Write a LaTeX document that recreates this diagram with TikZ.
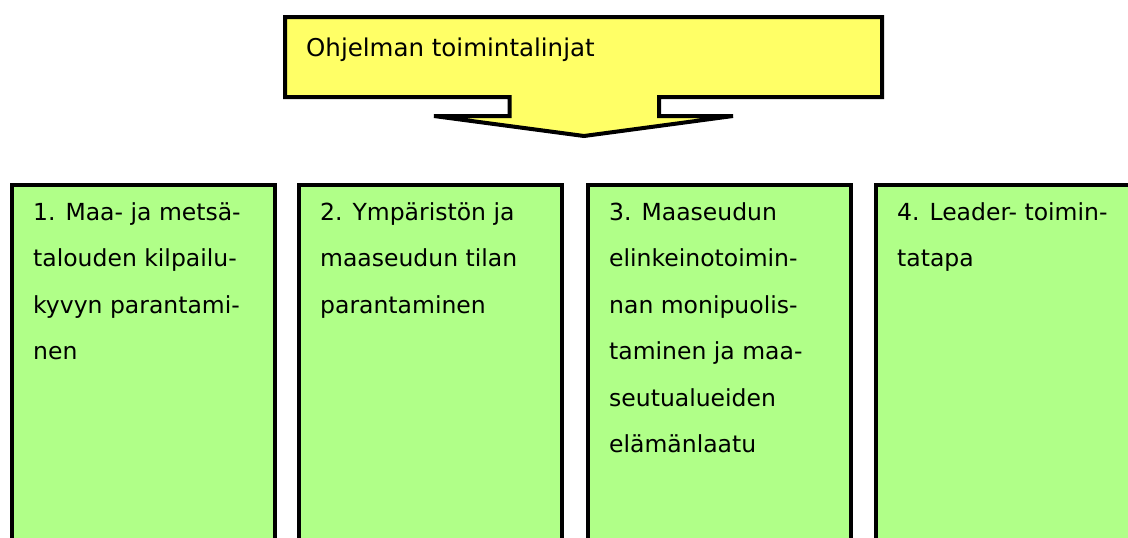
\documentclass[tikz,border=0pt]{standalone}
\usepackage{fontspec}
\setmainfont{DejaVu Sans}
\definecolor{arrowyellow}{HTML}{FFFF66}
\definecolor{boxgreen}{HTML}{B0FF88}
\begin{document}
\begin{tikzpicture}[x=1pt,y=-1pt,
  panel/.style={draw=black, line width=4pt, fill=boxgreen, anchor=north west,
    minimum width=263pt, minimum height=400pt, inner sep=0pt, outer sep=0pt},
  paneltext/.style={anchor=base west, inner sep=0pt, font=\fontsize{23.5}{46.5}\selectfont},
  titletext/.style={anchor=base west, inner sep=0pt, font=\fontsize{24.5}{30}\selectfont},
  bigarrow/.style={draw=black, line width=4pt, fill=arrowyellow, line join=miter}]
\useasboundingbox (0,0) rectangle (1128,538);
\clip (0,0) rectangle (1128,538);
% yellow arrow
\draw[bigarrow] (285,17) -- (882,17) -- (882,97) -- (659,97) -- (659,116)
  -- (733,116) -- (584,136) -- (434,116) -- (509.5,116) -- (509.5,97)
  -- (285,97) -- cycle;
\node[titletext] (title) at (306,56) {Ohjelman toimintalinjat};
% green panels
\node[panel] (p1) at (12,185) {};
\node[panel] (p2) at (299,185) {};
\node[panel] (p3) at (588,185) {};
\node[panel] (p4) at (876,185) {};
\node[paneltext] (t1) at (33,220) {\parbox[t]{240pt}{\raggedright 1. Maa- ja metsä-\\talouden kilpailu-\\kyvyn parantami-\\nen}};
\node[paneltext] (t2) at (320,220) {\parbox[t]{240pt}{\raggedright 2. Ympäristön ja\\maaseudun tilan\\parantaminen}};
\node[paneltext] (t3) at (609,220) {\parbox[t]{240pt}{\raggedright 3. Maaseudun\\elinkeinotoimin-\\nan monipuolis-\\taminen ja maa-\\seutualueiden\\elämänlaatu}};
\node[paneltext] (t4) at (897,220) {\parbox[t]{240pt}{\raggedright 4. Leader- toimin-\\tatapa}};
\end{tikzpicture}
\end{document}
